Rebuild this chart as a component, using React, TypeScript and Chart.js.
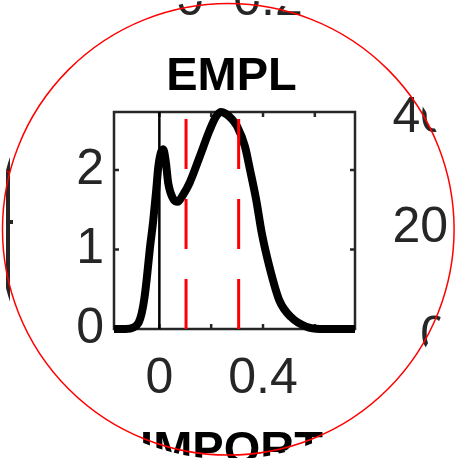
import React, { useEffect, useRef } from 'react';
import { Chart, registerables } from 'chart.js';

Chart.register(...registerables);

// ---- data ----
const titleText = 'EMPL';
const densityX = [-0.175, -0.13, -0.1, -0.08, -0.068, -0.058, -0.049, -0.037, -0.024, -0.012, -0.004, 0.006, 0.015, 0.025, 0.034, 0.053, 0.071, 0.09, 0.117, 0.156, 0.194, 0.22, 0.239, 0.26, 0.28, 0.3, 0.33, 0.35, 0.374, 0.395, 0.425, 0.463, 0.508, 0.566, 0.62, 0.755];
const densityY = [0, 0, 0.02, 0.08, 0.2, 0.38, 0.62, 1.0, 1.35, 1.75, 2.04, 2.22, 2.26, 2.1, 1.84, 1.64, 1.6, 1.68, 1.84, 2.17, 2.5, 2.68, 2.73, 2.7, 2.64, 2.55, 2.3, 2.0, 1.62, 1.21, 0.78, 0.36, 0.15, 0.03, 0, 0];
const zeroLineX = [0, 0];
const zeroLineY = [0, 2.73];
const bandX = [0.103, 0.306];
const bandY = [0, 2.73];
const xRange = [-0.175, 0.755];
const yRange = [0, 2.73];
const xTickValues = [0, 0.2, 0.4, 0.6];
const xTickLabels = ['0', '', '0.4', ''];
const yTickValues = [0, 1, 2];
const yTickLabels = ['0', '1', '2'];
// neighbouring panels seen through the lens
const topNeighbourLabels = ['0', '0.2'];
const rightNeighbourLabels = ['40', '20', '0'];
const bottomNeighbourTitle = 'IMPORT';

const FONT = "'Liberation Sans', Arial, Helvetica, sans-serif";
const AXIS_COLOR = '#262626';

const framePlugin = {
  id: 'matlabFrame',
  beforeDatasetsDraw(chart: any) {
    const { ctx, chartArea: a, scales } = chart;
    const len = 5;
    ctx.save();
    ctx.strokeStyle = AXIS_COLOR;
    ctx.lineWidth = 2.5;
    ctx.strokeRect(a.left, a.top, a.right - a.left, a.bottom - a.top);
    ctx.beginPath();
    xTickValues.forEach((v) => {
      const px = scales.x.getPixelForValue(v);
      ctx.moveTo(px, a.bottom);
      ctx.lineTo(px, a.bottom - len);
      ctx.moveTo(px, a.top);
      ctx.lineTo(px, a.top + len);
    });
    yTickValues.forEach((v) => {
      const py = scales.y.getPixelForValue(v);
      ctx.moveTo(a.left, py);
      ctx.lineTo(a.left + len, py);
      ctx.moveTo(a.right, py);
      ctx.lineTo(a.right - len, py);
    });
    ctx.stroke();
    // axes title (MATLAB-style, centred over the axes box)
    ctx.fillStyle = '#000000';
    ctx.font = `bold 47px ${FONT}`;
    ctx.textAlign = 'center';
    ctx.textBaseline = 'alphabetic';
    ctx.fillText(titleText, (a.left + a.right) / 2 - 3, a.top - 22);
    ctx.restore();
  },
};

const lensPlugin = {
  id: 'lens',
  afterDraw(chart: any) {
    const { ctx, width, height } = chart;
    const cx = 228.3;
    const cy = 229.3;
    ctx.save();
    ctx.fillStyle = AXIS_COLOR;
    ctx.font = `50px ${FONT}`;
    ctx.textBaseline = 'alphabetic';
    ctx.textAlign = 'center';
    ctx.fillText(topNeighbourLabels[0], 190, 15);
    ctx.fillText(topNeighbourLabels[1], 268, 15);
    ctx.textAlign = 'right';
    [132, 242, 351].forEach((by, i) => ctx.fillText(rightNeighbourLabels[i], 448, by));
    ctx.font = `bold 47px ${FONT}`;
    ctx.fillStyle = '#000';
    ctx.textAlign = 'center';
    ctx.fillText(bottomNeighbourTitle, 231.5, 464);
    // left neighbour axis
    ctx.strokeStyle = AXIS_COLOR;
    ctx.lineWidth = 4;
    ctx.beginPath();
    ctx.moveTo(8, 0);
    ctx.lineTo(8, height);
    ctx.moveTo(8, 222);
    ctx.lineTo(13, 222);
    ctx.stroke();
    ctx.strokeStyle = '#ff0000';
    ctx.lineWidth = 1;
    ctx.beginPath();
    ctx.moveTo(0, 167);
    ctx.lineTo(9, 172.5);
    ctx.stroke();
    // mask outside the lens
    ctx.beginPath();
    ctx.rect(0, 0, width, height);
    ctx.arc(cx, cy, 230, 0, Math.PI * 2);
    ctx.fillStyle = '#ffffff';
    ctx.fill('evenodd');
    // lens rim
    ctx.beginPath();
    ctx.arc(cx, cy, 225.8, 0, Math.PI * 2);
    ctx.strokeStyle = '#ff0000';
    ctx.lineWidth = 1.5;
    ctx.stroke();
    ctx.restore();
  },
};

export default function App() {
  const ref = useRef<HTMLCanvasElement | null>(null);
  useEffect(() => {
    if (!ref.current) return;
    const chart = new Chart(ref.current, {
      type: 'line',
      data: {
        datasets: [
          {
            label: 'density',
            data: densityX.map((x, i) => ({ x, y: densityY[i] })),
            borderColor: '#000000',
            borderWidth: 8,
            pointRadius: 0,
            cubicInterpolationMode: 'monotone',
            clip: false,
            order: 3,
          },
          {
            label: 'zero',
            data: zeroLineX.map((x, i) => ({ x, y: zeroLineY[i] })),
            borderColor: '#000000',
            borderWidth: 2.5,
            pointRadius: 0,
            order: 2,
          },
          ...bandX.map((bx) => ({
            label: 'band',
            data: bandY.map((y) => ({ x: bx, y })),
            borderColor: '#ff0000',
            borderWidth: 3,
            borderDash: [50, 30],
            pointRadius: 0,
            order: 1,
          })),
        ],
      },
      options: {
        responsive: false,
        animation: false,
        layout: { padding: { left: 0, top: 112, right: 100, bottom: 0 } },
        plugins: {
          legend: { display: false },
          tooltip: { enabled: false },
          title: { display: false },
        },
        scales: {
          x: {
            type: 'linear',
            min: xRange[0],
            max: xRange[1],
            grid: { display: false, drawTicks: false },
            border: { display: false },
            afterBuildTicks: (s: any) => {
              s.ticks = xTickValues.map((value) => ({ value }));
            },
            afterFit: (s: any) => {
              s.height = 129;
            },
            ticks: {
              autoSkip: false,
              maxRotation: 0,
              padding: 20,
              color: AXIS_COLOR,
              font: { family: FONT, size: 50 },
              callback: (v: any) => xTickLabels[xTickValues.indexOf(Number(v))] ?? '',
            },
          },
          y: {
            type: 'linear',
            min: yRange[0],
            max: yRange[1],
            grid: { display: false, drawTicks: false },
            border: { display: false },
            afterBuildTicks: (s: any) => {
              s.ticks = yTickValues.map((value) => ({ value }));
            },
            afterFit: (s: any) => {
              s.width = 114;
            },
            ticks: {
              padding: 10,
              color: AXIS_COLOR,
              font: { family: FONT, size: 50 },
              callback: (v: any) => yTickLabels[yTickValues.indexOf(Number(v))] ?? '',
            },
          },
        },
      },
      plugins: [framePlugin, lensPlugin],
    });
    return () => chart.destroy();
  }, []);
  return (
    <div style={{ position: 'absolute', left: 0, top: 0, width: 455, height: 458, background: '#fff' }}>
      <canvas ref={ref} width={455} height={458} style={{ display: 'block' }} />
    </div>
  );
}
